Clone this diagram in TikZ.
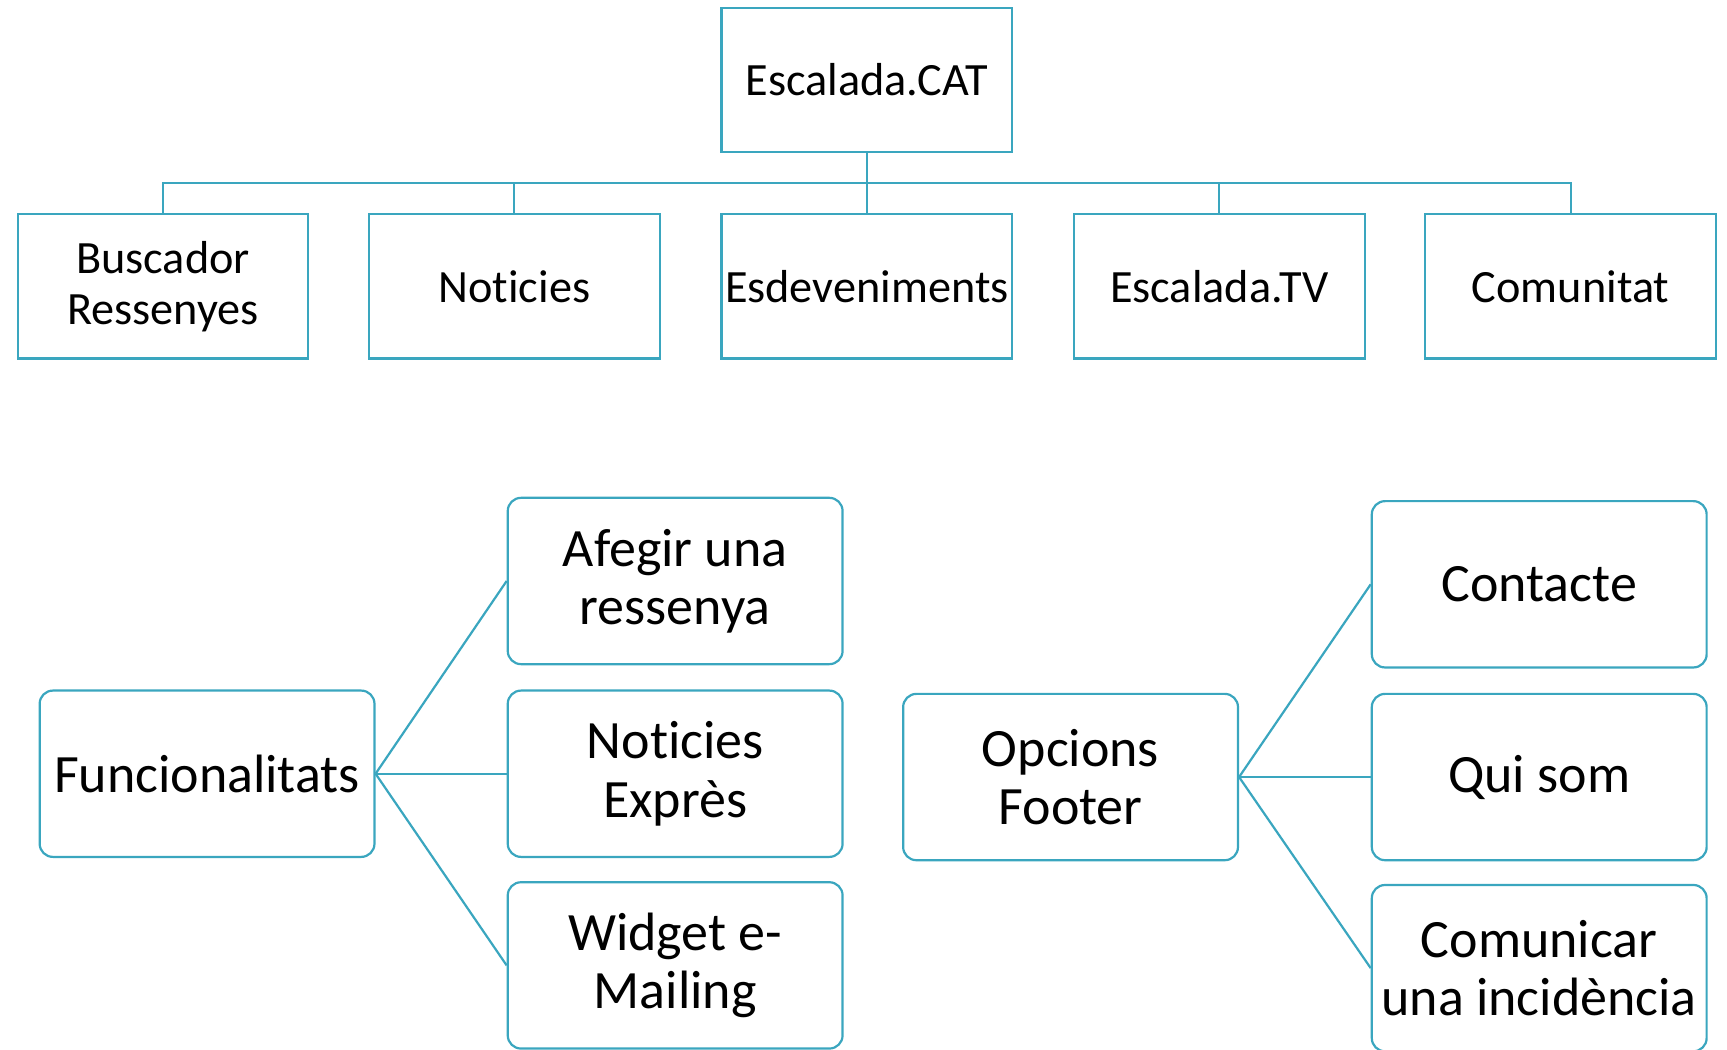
\documentclass[tikz,border=0pt]{standalone}
\usepackage{fontspec}
\setmainfont[Ligatures={NoCommon}]{Carlito}
\definecolor{teal1}{RGB}{58,166,191}
\tikzset{
  topbox/.style={draw=teal1, line width=2pt, minimum width=264pt, minimum height=131pt, align=center, inner sep=0pt, font=\fontsize{42}{46}\selectfont},
  rbox/.style={draw=teal1, line width=2pt, rounded corners=12pt, minimum width=304pt, minimum height=151pt, align=center, inner sep=0pt, font=\fontsize{49}{53}\selectfont},
  conn/.style={draw=teal1, line width=2pt},
}
\begin{document}
\begin{tikzpicture}[x=1pt,y=-1pt]
\useasboundingbox (0,0) rectangle (1568,953);
% top hierarchy
\node[topbox] (root) at (787,72.5) {Escalada.CAT};
\node[topbox] (c1) at (148,260) {Buscador\\Ressenyes};
\node[topbox] (c2) at (467,260) {Noticies};
\node[topbox] (c3) at (787,260) {Esdeveniments};
\node[topbox] (c4) at (1107,260) {Escalada.TV};
\node[topbox] (c5) at (1426,260) {Comunitat};
\coordinate (bus) at (787,166);
\draw[conn] (root.south) -- (bus);
\foreach \c in {c1,c2,c3,c4,c5}{
  \draw[conn] (\c.north) |- (bus);
}
% Funcionalitats
\node[rbox] (f) at (188,702.5) {Funcionalitats};
\node[rbox] (f1) at (613,527.5) {Afegir una\\ressenya};
\node[rbox] (f2) at (613,702.5) {Noticies\\Exprès};
\node[rbox] (f3) at (613,876.5) {Widget e-\\Mailing};
\foreach \c in {f1,f2,f3}{
  \draw[conn] (f.east) -- (\c.west);
}
% Opcions Footer
\node[rbox] (o) at (972,705.5) {Opcions\\Footer};
\node[rbox] (o1) at (1397.5,530.5) {Contacte};
\node[rbox] (o2) at (1397.5,705.5) {Qui som};
\node[rbox] (o3) at (1397.5,879) {Comunicar\\una incidència};
\foreach \c in {o1,o2,o3}{
  \draw[conn] (o.east) -- (\c.west);
}
\end{tikzpicture}
\end{document}
